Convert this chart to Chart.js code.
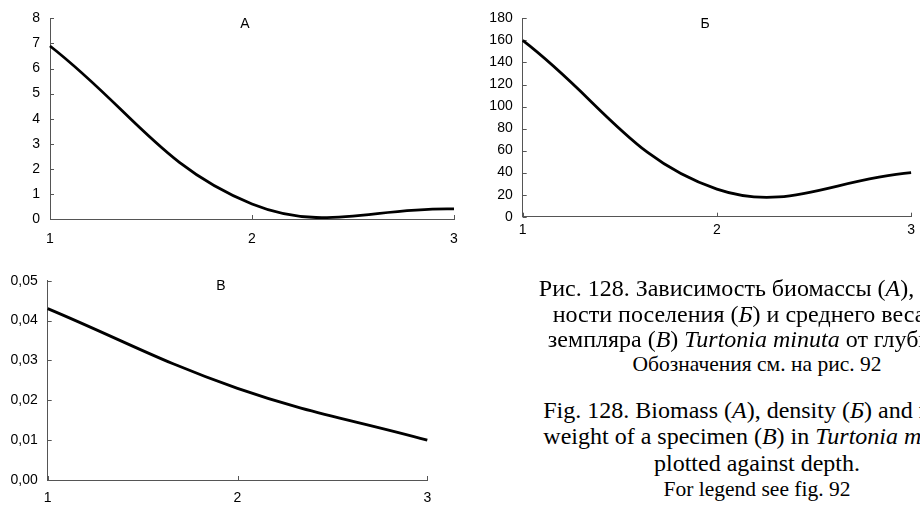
<!DOCTYPE html>
<html>
<head>
<meta charset="utf-8">
<script src="https://cdn.jsdelivr.net/npm/chart.js@4.4.1/dist/chart.umd.min.js"></script>
<style>
  html, body { margin:0; padding:0; background:#fff; }
  body { width:920px; height:507px; position:relative; overflow:hidden; }
  canvas { position:absolute; }
  .ttl { position:absolute; font-family:"Liberation Sans", Arial, sans-serif; font-size:14px; color:#000; transform:translate(-50%,-50%); line-height:1; }
  .cap { position:absolute; left:757px; transform:translateX(-50%); white-space:nowrap; font-family:"Liberation Serif","Times New Roman",serif; color:#000; }
  .big { font-size:24px; line-height:24px; }
  .small { font-size:21.5px; line-height:21.5px; }
</style>
</head>
<body>
<canvas id="cA" width="470" height="255" style="left:0;top:0"></canvas>
<canvas id="cB" width="460" height="255" style="left:460px;top:0"></canvas>
<canvas id="cC" width="460" height="247" style="left:0;top:260px"></canvas>

<div class="ttl" style="left:245px;top:23px">А</div>
<div class="ttl" style="left:705px;top:23px">Б</div>
<div class="ttl" style="left:221px;top:285px">В</div>

<div class="cap big" style="top:276px">Рис. 128. Зависимость биомассы (<i>А</i>), плот-</div>
<div class="cap big" style="top:302px">ности поселения (<i>Б</i>) и среднего веса эк-</div>
<div class="cap big" style="top:327px">земпляра (<i>В</i>) <i>Turtonia minuta</i> от глубины.</div>
<div class="cap small" style="top:354px">Обозначения см. на рис. 92</div>
<div class="cap big" style="top:398px">Fig. 128. Biomass (<i>A</i>), density (<i>Б</i>) and mean</div>
<div class="cap big" style="top:424px">weight of a specimen (<i>B</i>) in <i>Turtonia minuta</i></div>
<div class="cap big" style="top:451px">plotted against depth.</div>
<div class="cap small" style="top:479px">For legend see fig. 92</div>

<script>
// ---- data ----
const depthLabels = ['1', '2', '3'];
const biomass = [6.9, 0.6, 0.4];          // A
const density = [160, 25, 40];            // Б
const specimenWeight = [0.043, 0.023, 0.010]; // В

const yRangeA = { min: 0, max: 8, step: 1 };
const yRangeB = { min: 0, max: 180, step: 20 };
const yRangeC = { min: 0, max: 0.05, step: 0.01 };

const tickFont = { family: "'Liberation Sans', Arial, sans-serif", size: 14 };

const innerTicks = {
  id: 'innerTicks',
  beforeDatasetsDraw(chart) {
    const ctx = chart.ctx;
    const { left, bottom } = chart.chartArea;
    const xs = chart.scales.x, ys = chart.scales.y;
    ctx.save();
    ctx.strokeStyle = '#555';
    ctx.lineWidth = 1;
    ctx.beginPath();
    ys.ticks.forEach((t, i) => {
      const y = Math.round(ys.getPixelForTick(i)) + 0.5;
      ctx.moveTo(left, y); ctx.lineTo(left + 4, y);
    });
    xs.ticks.forEach((t, i) => {
      const x = Math.round(xs.getPixelForTick(i)) + 0.5;
      ctx.moveTo(x, bottom); ctx.lineTo(x, bottom - 4);
    });
    ctx.stroke();
    ctx.restore();
  }
};

function makeChart(id, values, range, geom, fmt) {
  return new Chart(document.getElementById(id), {
    type: 'line',
    data: {
      labels: depthLabels,
      datasets: [{
        data: values,
        borderColor: '#000',
        borderWidth: 2.8,
        pointRadius: 0,
        tension: 0.4,
        fill: false,
        clip: false
      }]
    },
    options: {
      responsive: false,
      animation: false,
      devicePixelRatio: 1,
      elements: { line: { capBezierPoints: false } },
      layout: { padding: { top: geom.top, right: geom.right, left: 0, bottom: 0 } },
      plugins: { legend: { display: false }, tooltip: { enabled: false }, title: { display: false } },
      scales: {
        x: {
          type: 'category',
          offset: false,
          grid: { display: false, drawTicks: false },
          border: { display: true, color: '#555', width: 1 },
          ticks: { color: '#000', font: tickFont, padding: geom.xPad, maxRotation: 0, autoSkip: false },
          afterFit: s => { s.height = geom.xh; }
        },
        y: {
          min: range.min, max: range.max,
          grid: { display: false, drawTicks: false },
          border: { display: true, color: '#555', width: 1 },
          ticks: { stepSize: range.step, color: '#000', font: tickFont, padding: 10, callback: fmt },
          afterFit: s => { s.width = geom.yw; }
        }
      }
    },
    plugins: [innerTicks]
  });
}

makeChart('cA', biomass, yRangeA, { top: 16, right: 16, yw: 50, xh: 36, xPad: 12 }, v => String(v));
makeChart('cB', density, yRangeB, { top: 16, right: 4.7, yw: 62.7, xh: 38.3, xPad: 5 }, v => String(v));
makeChart('cC', specimenWeight, yRangeC, { top: 20.7, right: 32.7, yw: 47.7, xh: 27, xPad: 10 }, v => Number(v).toFixed(2).replace('.', ','));
</script>
</body>
</html>
